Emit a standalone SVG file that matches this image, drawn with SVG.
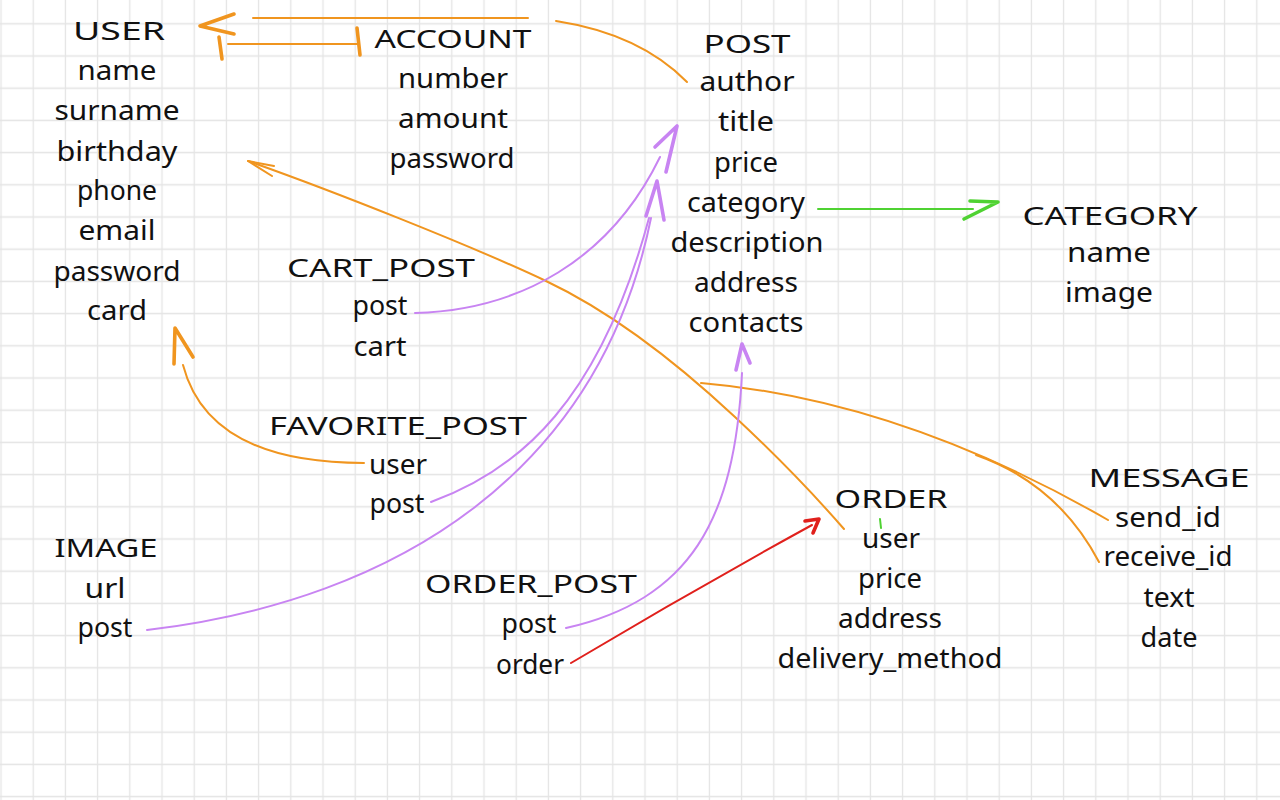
<svg xmlns="http://www.w3.org/2000/svg" width="1280" height="800" viewBox="0 0 1280 800">
<defs>
<pattern id="grid" x="-15.1" y="7.7" width="32.2" height="32.2" patternUnits="userSpaceOnUse">
<path d="M16.1 0V32.2M0 16.1H32.2" stroke="#e4e4e4" stroke-width="1.3" fill="none"/>
</pattern>
<style>
text{font-family:"Noto Sans","DejaVu Sans",sans-serif;fill:#111;text-anchor:middle}
.h{font-size:25px}
.f{font-size:28px}
.o{stroke:#f0951f;fill:none;stroke-width:2;stroke-linecap:round;stroke-linejoin:round}
.p{stroke:#c884f2;fill:none;stroke-width:2;stroke-linecap:round;stroke-linejoin:round}
.g{stroke:#4fd232;fill:none;stroke-width:2;stroke-linecap:round;stroke-linejoin:round}
.r{stroke:#e0201c;fill:none;stroke-width:2;stroke-linecap:round;stroke-linejoin:round}
.t{stroke-width:3.6}
</style>
</defs>
<rect width="1280" height="800" fill="#ffffff"/>
<rect width="1280" height="800" fill="url(#grid)"/>

<g id="connectors">
<!-- POST.author -> USER -->
<path class="o" d="M687,82 Q640,34 556,21"/>
<path class="o" d="M528,18 L253,18"/>
<path class="o t" d="M234,14 L200,26 L234,34"/>
<!-- ACCOUNT -> USER -->
<path class="o" d="M228,44 L357,44"/>
<path class="o t" d="M219,37 L222,59"/>
<path class="o t" d="M357,28 L360,55"/>
<!-- ORDER.user -> USER.birthday -->
<path class="o" d="M248,161 C330,190 470,245 546,281 S690,375 735,417 S810,490 844,529"/>
<path class="o" d="M274,166 L248,161 L272,176"/>
<!-- FAVORITE_POST.user -> USER.card -->
<path class="o" d="M183,365 C200,430 260,463 364,463"/>
<path class="o t" d="M174,364 L175,328 L193,357"/>
<!-- MESSAGE -> POST / USER -->
<path class="o" d="M701,383 Q900,400 1108,520"/>
<path class="o" d="M976,455 Q1058,484 1099,562"/>
<!-- CART_POST.post -> POST.title -->
<path class="p" d="M415,313 C520,310 610,260 660,157"/>
<path class="p t" d="M655,147 L677,126 L666,172"/>
<!-- FAVORITE_POST.post -> POST -->
<path class="p" d="M431,502 C520,470 600,400 649,218"/>
<!-- IMAGE.post -> POST -->
<path class="p" d="M147,630 C400,600 600,470 651,218"/>
<path class="p t" d="M646,216 L657,181 L664,220"/>
<!-- ORDER_POST.post -> POST.contacts -->
<path class="p" d="M566,628 C690,600 735,520 742,373"/>
<path class="p t" d="M736,370 L742,344 L750,363"/>
<!-- POST.category -> CATEGORY -->
<path class="g" d="M818,209 L973,209"/>
<path class="g t" d="M970,201 L998,202 L964,219"/>
<path class="g" d="M880,519 L881,528"/>
<!-- ORDER_POST.order -> ORDER -->
<path class="r" d="M571,663 Q690,592 812,525"/>
<path class="r t" d="M805,521 L819,519 L813,533"/>
</g>

<g id="user">
<text class="h" x="119" y="40" textLength="92" lengthAdjust="spacingAndGlyphs">USER</text>
<text class="f" x="117" y="80" textLength="79" lengthAdjust="spacingAndGlyphs">name</text>
<text class="f" x="117" y="120" textLength="125" lengthAdjust="spacingAndGlyphs">surname</text>
<text class="f" x="117" y="161" textLength="121" lengthAdjust="spacingAndGlyphs">birthday</text>
<text class="f" x="117" y="200" textLength="80" lengthAdjust="spacingAndGlyphs">phone</text>
<text class="f" x="117" y="240" textLength="77" lengthAdjust="spacingAndGlyphs">email</text>
<text class="f" x="117" y="281" textLength="127" lengthAdjust="spacingAndGlyphs">password</text>
<text class="f" x="117" y="320" textLength="60" lengthAdjust="spacingAndGlyphs">card</text>
</g>

<g id="account">
<text class="h" x="453" y="48" textLength="157" lengthAdjust="spacingAndGlyphs">ACCOUNT</text>
<text class="f" x="453" y="88" textLength="110" lengthAdjust="spacingAndGlyphs">number</text>
<text class="f" x="453" y="128" textLength="110" lengthAdjust="spacingAndGlyphs">amount</text>
<text class="f" x="452" y="168" textLength="125" lengthAdjust="spacingAndGlyphs">password</text>
</g>

<g id="post">
<text class="h" x="747" y="53" textLength="87" lengthAdjust="spacingAndGlyphs">POST</text>
<text class="f" x="747" y="91" textLength="95" lengthAdjust="spacingAndGlyphs">author</text>
<text class="f" x="746" y="131" textLength="56" lengthAdjust="spacingAndGlyphs">title</text>
<text class="f" x="746" y="172" textLength="64" lengthAdjust="spacingAndGlyphs">price</text>
<text class="f" x="746" y="212" textLength="118" lengthAdjust="spacingAndGlyphs">category</text>
<text class="f" x="747" y="252" textLength="153" lengthAdjust="spacingAndGlyphs">description</text>
<text class="f" x="746" y="292" textLength="104" lengthAdjust="spacingAndGlyphs">address</text>
<text class="f" x="746" y="332" textLength="115" lengthAdjust="spacingAndGlyphs">contacts</text>
</g>

<g id="category">
<text class="h" x="1110" y="225" textLength="175" lengthAdjust="spacingAndGlyphs">CATEGORY</text>
<text class="f" x="1109" y="262" textLength="84" lengthAdjust="spacingAndGlyphs">name</text>
<text class="f" x="1109" y="302" textLength="88" lengthAdjust="spacingAndGlyphs">image</text>
</g>

<g id="cart_post">
<text class="h" x="381" y="277" textLength="188" lengthAdjust="spacingAndGlyphs">CART_POST</text>
<text class="f" x="380" y="315" textLength="55" lengthAdjust="spacingAndGlyphs">post</text>
<text class="f" x="380" y="356" textLength="53" lengthAdjust="spacingAndGlyphs">cart</text>
</g>

<g id="favorite_post">
<text class="h" x="398" y="435" textLength="258" lengthAdjust="spacingAndGlyphs">FAVORITE_POST</text>
<text class="f" x="398" y="474" textLength="58" lengthAdjust="spacingAndGlyphs">user</text>
<text class="f" x="397" y="513" textLength="55" lengthAdjust="spacingAndGlyphs">post</text>
</g>

<g id="image">
<text class="h" x="106" y="557" textLength="103" lengthAdjust="spacingAndGlyphs">IMAGE</text>
<text class="f" x="105" y="598" textLength="41" lengthAdjust="spacingAndGlyphs">url</text>
<text class="f" x="105" y="637" textLength="55" lengthAdjust="spacingAndGlyphs">post</text>
</g>

<g id="order_post">
<text class="h" x="531" y="593" textLength="212" lengthAdjust="spacingAndGlyphs">ORDER_POST</text>
<text class="f" x="529" y="633" textLength="55" lengthAdjust="spacingAndGlyphs">post</text>
<text class="f" x="530" y="674" textLength="68" lengthAdjust="spacingAndGlyphs">order</text>
</g>

<g id="order">
<text class="h" x="891" y="508" textLength="113" lengthAdjust="spacingAndGlyphs">ORDER</text>
<text class="f" x="891" y="548" textLength="58" lengthAdjust="spacingAndGlyphs">user</text>
<text class="f" x="890" y="588" textLength="64" lengthAdjust="spacingAndGlyphs">price</text>
<text class="f" x="890" y="628" textLength="104" lengthAdjust="spacingAndGlyphs">address</text>
<text class="f" x="890" y="668" textLength="225" lengthAdjust="spacingAndGlyphs">delivery_method</text>
</g>

<g id="message">
<text class="h" x="1169" y="487" textLength="161" lengthAdjust="spacingAndGlyphs">MESSAGE</text>
<text class="f" x="1168" y="527" textLength="106" lengthAdjust="spacingAndGlyphs">send_id</text>
<text class="f" x="1168" y="566" textLength="129" lengthAdjust="spacingAndGlyphs">receive_id</text>
<text class="f" x="1169" y="607" textLength="51" lengthAdjust="spacingAndGlyphs">text</text>
<text class="f" x="1169" y="647" textLength="57" lengthAdjust="spacingAndGlyphs">date</text>
</g>
</svg>
